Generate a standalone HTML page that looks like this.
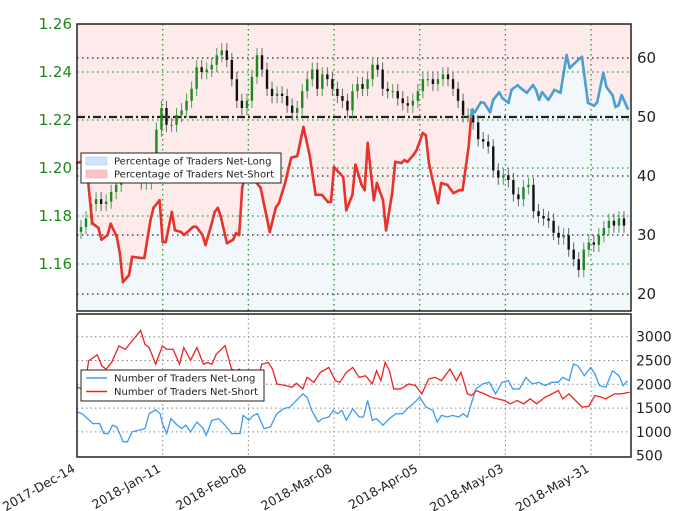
<!DOCTYPE html>
<html><head><meta charset="utf-8"><style>
body{margin:0;background:#fff;}
svg{display:block;font-family:"DejaVu Sans","Liberation Sans",sans-serif;}
</style></head><body>
<svg id="chart" width="680" height="511" viewBox="0 0 680 511"></svg>
<script>
// ---- data ----
const dateLabels = ["2017-Dec-14","2018-Jan-11","2018-Feb-08","2018-Mar-08","2018-Apr-05","2018-May-03","2018-May-31"];
const priceTicks = [1.16,1.18,1.20,1.22,1.24,1.26];
const pctTicks = [20,30,40,50,60];
const countTicks = [500,1000,1500,2000,2500,3000];
const closes = [1.1754,1.179,1.185,1.187,1.185,1.186,1.190,1.193,1.197,1.198,1.200,1.201,1.194,1.194,1.197,1.216,1.225,1.218,1.218,1.222,1.224,1.228,1.233,1.242,1.240,1.241,1.243,1.247,1.249,1.245,1.237,1.228,1.225,1.228,1.238,1.247,1.241,1.233,1.230,1.231,1.230,1.226,1.223,1.225,1.232,1.237,1.241,1.233,1.239,1.237,1.233,1.230,1.228,1.224,1.232,1.235,1.233,1.237,1.243,1.241,1.233,1.232,1.232,1.229,1.227,1.226,1.228,1.232,1.237,1.237,1.235,1.237,1.239,1.237,1.233,1.228,1.222,1.222,1.219,1.212,1.211,1.209,1.199,1.196,1.197,1.195,1.189,1.187,1.192,1.193,1.182,1.180,1.179,1.178,1.173,1.171,1.172,1.166,1.162,1.1575,1.166,1.169,1.168,1.172,1.175,1.178,1.176,1.179,1.176];
const pctDays = [0,3,4,5,7,8,10,11,13,14,15,17,18,21,22,24,25,27,28,29,31,32,34,35,38,39,41,42,44,45,46,47,49,51,52,53,54,56,58,60,63,65,66,68,70,72,74,76,78,80,82,83,84,87,88,90,91,93,94,95,97,98,100,101,103,104,106,107,108,110,111,113,114,115,116,118,119,121,123,125,126,128,129,130,132,133,135,136,138,139,141,142,144,145,147,149,150,151,152,154,155,156,158,160,161,163,165,167,169,170,172,173,175,176,177,178,180];
const pctLong = [42.2,42.7,37.1,32.0,31.2,29.2,30.0,31.9,29.7,26.9,22.0,23.2,26.3,26.1,26.1,32.5,34.6,35.9,28.8,28.8,33.9,30.8,30.5,30.0,31.4,31.4,30.0,28.3,31.9,33.9,34.6,33.1,28.6,29.2,30.3,30.0,38.1,41.5,39.3,38.0,30.5,34.7,35.4,38.8,43.1,43.4,48.3,43.6,36.8,36.8,35.6,35.6,41.5,39.8,34.2,36.8,41.9,38.5,37.6,45.6,35.9,38.8,35.9,30.8,37.1,42.4,42.2,42.7,42.4,43.6,44.4,47.3,46.9,42.2,39.8,35.4,38.8,38.5,37.1,37.6,37.6,45.0,51.2,50.8,52.5,52.4,50.8,52.9,54.2,53.2,52.4,54.6,55.4,54.9,54.1,55.4,54.6,52.9,54.2,52.9,53.7,54.6,54.1,60.5,58.3,59.3,60.2,52.4,51.9,52.5,57.5,55.1,53.7,51.7,52.0,53.7,51.4];
const longDays = [0,1.7,5.2,7.4,8.8,10.2,11.6,13,15.1,16.5,18,20.1,22.2,23.6,25.7,27.2,27.9,29.3,30.7,32.8,34.2,35.6,37.1,39.2,41.3,42.2,44.1,46.3,48.4,50.5,51.9,53.3,54.3,56.2,57.6,59,61.1,63.2,65.3,67.5,69.6,71.7,73.8,75.2,76.7,78.8,80.2,82.3,83.7,85.1,86.6,88,90.1,92.2,93.6,95,96.5,97.9,100,102.1,104.2,106.4,108.5,109.9,112,114.1,116.3,117.7,119.1,121.2,122.6,124.8,126.2,127.6,129,130.4,132.5,134.7,136.8,138.9,141,142.4,144.6,146.7,148.8,150.9,153,155.2,157.3,158.7,160.8,162.2,163.7,165.8,167.9,169.3,170.7,172.8,175,177.1,178.5,179.9];
const longCount = [1420,1380,1175,1175,965,965,1140,1105,792,792,1000,1035,1070,1382,1465,1382,1175,965,1278,1140,1070,1140,1000,1208,1070,930,1243,1278,1140,965,965,965,1347,1243,1347,1382,1070,1105,1382,1486,1521,1660,1799,1729,1451,1208,1278,1313,1451,1382,1451,1243,1486,1313,1313,1660,1243,1278,1140,1278,1382,1382,1521,1590,1729,1521,1451,1208,1347,1313,1347,1313,1382,1313,1625,1903,2007,2042,1799,2042,2076,1903,1903,2146,2007,2042,1972,2042,2042,2146,2076,2424,2389,2181,2354,2215,1972,1938,2285,2181,1972,2076];
const shortDays = [0,1.7,3.1,3.8,6.6,8.1,9.5,11.3,13.7,15.8,18,20.8,22.2,23.6,25.7,27.9,29.3,31.4,33.5,34.9,37.1,39.2,41.3,42.7,44.1,45.5,48.4,50.5,51.9,53,54.7,56.9,59,60.4,62.5,63.9,65.3,68.2,70.3,71.7,73.8,75.2,77.4,79.5,82.3,84.4,85.9,88,90.1,92.2,94.3,96.5,97.9,99.3,100.7,102.1,103.5,105.7,108.5,110.6,112.7,114.9,117,119.1,121.9,124,125.5,127.6,129,130.4,133.2,135.4,137.5,139.6,141.7,143.8,146,148.1,150.2,153,155.2,157.3,158.7,160.8,162.9,165.1,167.2,169.3,171.4,172.8,175.7,177.8,180.6];
const shortCount = [1938,1903,2181,2493,2618,2389,2319,2458,2806,2736,2910,3132,2840,2771,2424,2806,2736,2736,2424,2771,2507,2771,2424,2458,2424,2632,2813,2319,2285,2319,2215,2181,2076,2424,2458,2319,2007,1972,1938,2021,1903,2146,2042,2250,2354,2076,2042,2250,2354,2146,2181,2007,2285,2076,2458,2285,1903,1903,2007,1972,1799,2111,2146,2076,2319,2076,2250,1799,1764,1868,1799,1729,1694,1660,1590,1660,1590,1694,1590,1729,1799,1868,1694,1799,1660,1521,1535,1764,1729,1694,1799,1799,1833];

// ---- axes ----
const L=77,R=631,T1=24,B1=311,T2=314,B2=457;
const xDay=d=>L+d*3.06;
const yPrice=p=>24+(1.26-p)*2400;
const yPct=v=>117-(v-50)*5.9;
const yCnt=v=>455.7-(v-500)*0.0476;
const NS="http://www.w3.org/2000/svg";
const svg=document.getElementById('chart');
function mk(tag,attrs,parent){const e=document.createElementNS(NS,tag);for(const k in attrs)e.setAttribute(k,attrs[k]);(parent||svg).appendChild(e);return e;}

const topG=mk('g',{});


mk('rect',{x:L,y:T1,width:R-L,height:B1-T1,fill:'#fdeaea'},topG);
let area='M'+xDay(pctDays[0])+','+B1;
pctDays.forEach((d,i)=>{area+=' L'+xDay(d)+','+yPct(pctLong[i]);});
area+=' L'+R+','+yPct(pctLong[pctLong.length-1])+' L'+R+','+B1+' Z';
const ar=mk('path',{d:area,fill:'#f2f7fb'},topG);



pctTicks.forEach(v=>{const y=yPct(v);mk('line',{x1:L,x2:R,y1:y,y2:y,stroke:'#222','stroke-width':v===50?2.2:1.3,'stroke-dasharray':v===50?'8,3,2,3':'1.5,3.5'},topG);});
priceTicks.forEach(p=>{const y=yPrice(p);if(y>T1+1)mk('line',{x1:L,x2:R,y1:y,y2:y,stroke:'#2a9a2a','stroke-width':1.3,'stroke-dasharray':'1.5,3.5'},topG);});
dateLabels.forEach((s,i)=>{const x=xDay(i*28);if(i>0){mk('line',{x1:x,x2:x,y1:T1,y2:B1,stroke:'#2a9a2a','stroke-width':1.3,'stroke-dasharray':'1.5,3.5'},topG);mk('line',{x1:x,x2:x,y1:T2,y2:B2,stroke:'#888','stroke-width':1,'stroke-dasharray':'1.5,3'});}});
countTicks.forEach(v=>{if(v>500){const y=yCnt(v);mk('line',{x1:L,x2:R,y1:y,y2:y,stroke:'#888','stroke-width':1,'stroke-dasharray':'1.5,3'});}});

const step=(R-L-6)/closes.length;
closes.forEach((c,i)=>{
  const o=i?closes[i-1]:c-0.002;
  const x=L+4+i*step;
  const hi=Math.max(o,c)+0.003, lo=Math.min(o,c)-0.003;
  const col=c>=o?'#1e8a1e':'#111';
  mk('line',{x1:x,x2:x,y1:yPrice(hi),y2:yPrice(lo),stroke:c>=o?'#5a9a5a':'#666','stroke-width':1},topG);
  const b=mk('rect',{x:x-1.2,y:yPrice(Math.max(o,c)),width:2.4,height:Math.max(1,Math.abs(yPrice(o)-yPrice(c))),fill:col},topG);
  
  
});

for(let i=1;i<pctDays.length;i++){
  const x0=xDay(pctDays[i-1]),x1=xDay(pctDays[i]),v0=pctLong[i-1],v1=pctLong[i];
  const segs=[];
  if((v0-50)*(v1-50)<0){const t=(50-v0)/(v1-v0);const xm=x0+t*(x1-x0);segs.push([x0,v0,xm,50,v0<50]);segs.push([xm,50,x1,v1,v1<50]);}
  else segs.push([x0,v0,x1,v1,(v0+v1)/2<50]);
  segs.forEach(s=>{const ln=mk('line',{x1:s[0],y1:yPct(s[1]),x2:s[2],y2:yPct(s[3]),stroke:s[4]?'#e8322a':'#4a9ed0','stroke-width':2.6,'stroke-linecap':'round'},topG);
    
    });
}
mk('rect',{x:L,y:T1,width:R-L,height:B1-T1,fill:'none',stroke:'#222','stroke-width':1.5});

priceTicks.forEach(p=>{const t=mk('text',{x:72,y:yPrice(p)+5,'text-anchor':'end','font-size':15,fill:'#1a8a1a'});t.textContent=p.toFixed(2);
  
  });
pctTicks.forEach(v=>{const t=mk('text',{x:637,y:yPct(v)+5,'font-size':15,fill:'#222'});t.textContent=v;
  
  });

function series(days,vals,col,name){let d='';days.forEach((x,i)=>{d+=(i?' L':'M')+xDay(x)+','+yCnt(vals[i]);});const p=mk('path',{d:d,fill:'none',stroke:col,'stroke-width':1.3});
  
  }
series(longDays,longCount,'#3b9cf0','net-long-count-line');
series(shortDays,shortCount,'#ee2222','net-short-count-line');
mk('rect',{x:L,y:T2,width:R-L,height:B2-T2,fill:'none',stroke:'#222','stroke-width':1.5});
countTicks.forEach(v=>{const t=mk('text',{x:636,y:yCnt(v)+5,'font-size':14,fill:'#222'});t.textContent=v;
  
  });
dateLabels.forEach((s,i)=>{const x=xDay(i*28);const t=mk('text',{x:x-1,y:471,'text-anchor':'end','font-size':12.5,fill:'#222',transform:'rotate(-30 '+(x-1)+' 471)'});t.textContent=s;
  
  });

function legend(x,y,w,h,items,fs,name){const g=mk('g',{});
  mk('rect',{x:x,y:y,width:w,height:h,fill:'#fff',stroke:'#222','stroke-width':1},g);
  items.forEach((it,i)=>{const yy=y+8+i*(h-4)/2;
    if(it.patch)mk('rect',{x:x+5,y:yy-4,width:21,height:8,fill:it.c,stroke:it.s,'stroke-width':0.5},g);
    else mk('line',{x1:x+5,x2:x+26,y1:yy,y2:yy,stroke:it.c,'stroke-width':1.5},g);
    const t=mk('text',{x:x+33,y:yy+3.5,'font-size':fs,fill:'#222'},g);t.textContent=it.t;});}
legend(81,153,200,30,[{t:'Percentage of Traders Net-Long',c:'#cfe4fa',s:'#9ec8f0',patch:1},{t:'Percentage of Traders Net-Short',c:'#f9c5c5',s:'#f09a9a',patch:1}],10,'top-legend');
legend(81,370,183,31,[{t:'Number of Traders Net-Long',c:'#3b9cf0'},{t:'Number of Traders Net-Short',c:'#ee2222'}],10,'bottom-legend');
</script>
</body></html>
